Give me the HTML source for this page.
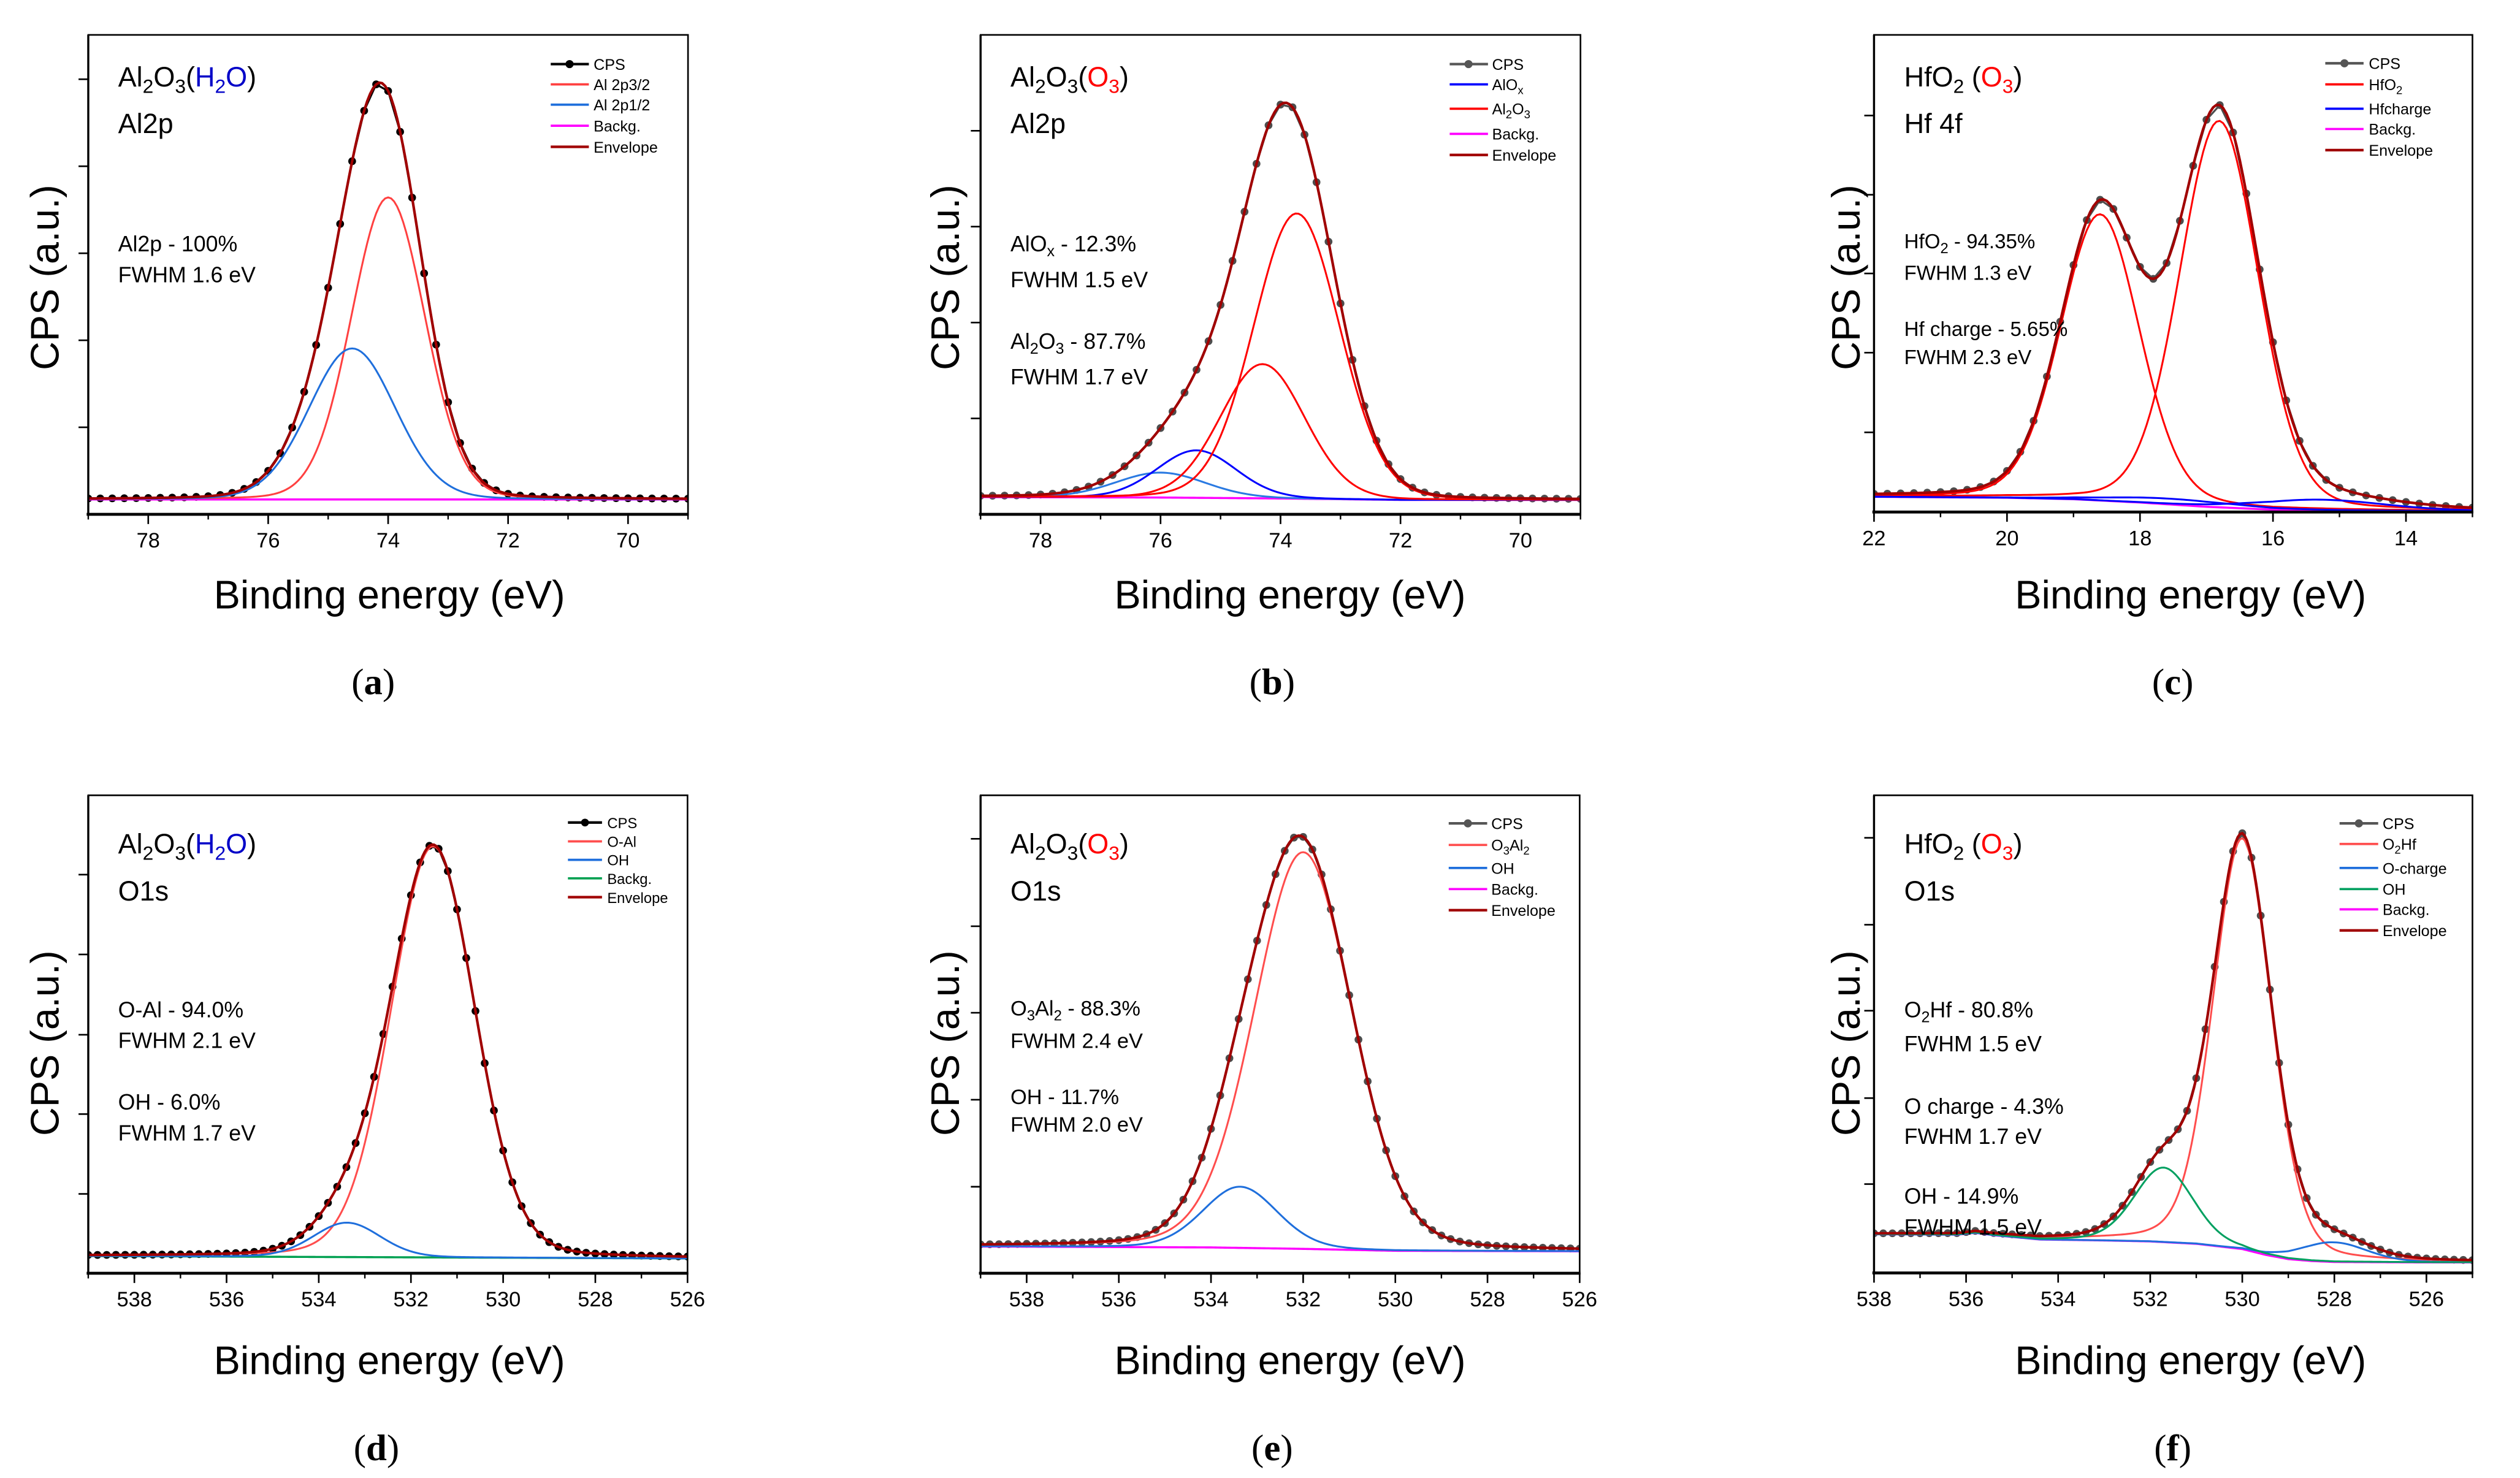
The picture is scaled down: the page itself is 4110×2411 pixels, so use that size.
<!DOCTYPE html>
<html><head><meta charset="utf-8"><title>XPS spectra</title>
<style>
html,body{margin:0;padding:0;background:#fff;}
svg{display:block;}
text{font-family:"Liberation Sans",Arial,sans-serif;}
</style></head>
<body>
<svg id="fig" xmlns="http://www.w3.org/2000/svg" width="4110" height="2411" viewBox="0 0 1553 911">
<rect x="0" y="0" width="1553" height="911" fill="#fff"/>
<g id="plots"></g>

<!-- Panel a -->
<g font-size="17">
<text x="72.8" y="53.3">Al<tspan dy="4" font-size="12">2</tspan><tspan dy="-4">O</tspan><tspan dy="4" font-size="12">3</tspan><tspan dy="-4">(</tspan><tspan fill="#0000c8">H</tspan><tspan fill="#0000c8" dy="4" font-size="12">2</tspan><tspan fill="#0000c8" dy="-4">O</tspan>)</text>
<text x="72.8" y="82">Al2p</text>
<text x="72.8" y="155" font-size="13.5">Al2p - 100%</text>
<text x="72.8" y="174" font-size="13.5">FWHM 1.6 eV</text>
</g>
<!-- Panel b -->
<g font-size="17">
<text x="622.7" y="53.3">Al<tspan dy="4" font-size="12">2</tspan><tspan dy="-4">O</tspan><tspan dy="4" font-size="12">3</tspan><tspan dy="-4">(</tspan><tspan fill="#ff0000">O</tspan><tspan fill="#ff0000" dy="4" font-size="12">3</tspan><tspan dy="-4">)</tspan></text>
<text x="622.7" y="82">Al2p</text>
<text x="622.7" y="155" font-size="13.5">AlO<tspan dy="3" font-size="9.5">x</tspan><tspan dy="-3"> - 12.3%</tspan></text>
<text x="622.7" y="177" font-size="13.5">FWHM 1.5 eV</text>
<text x="622.7" y="215" font-size="13.5">Al<tspan dy="3" font-size="9.5">2</tspan><tspan dy="-3">O</tspan><tspan dy="3" font-size="9.5">3</tspan><tspan dy="-3"> - 87.7%</tspan></text>
<text x="622.7" y="237" font-size="13.5">FWHM 1.7 eV</text>
</g>
<!-- Panel c -->
<g font-size="17">
<text x="1173.5" y="53.3">HfO<tspan dy="4" font-size="12">2</tspan><tspan dy="-4"> (</tspan><tspan fill="#ff0000">O</tspan><tspan fill="#ff0000" dy="4" font-size="12">3</tspan><tspan dy="-4">)</tspan></text>
<text x="1173.5" y="82">Hf 4f</text>
<text x="1173.5" y="153" font-size="12.5">HfO<tspan dy="3" font-size="9">2</tspan><tspan dy="-3"> - 94.35%</tspan></text>
<text x="1173.5" y="172.5" font-size="12.5">FWHM 1.3 eV</text>
<text x="1173.5" y="207" font-size="12.5">Hf charge - 5.65%</text>
<text x="1173.5" y="224.5" font-size="12.5">FWHM 2.3 eV</text>
</g>
<!-- Panel d -->
<g font-size="17">
<text x="72.8" y="526">Al<tspan dy="4" font-size="12">2</tspan><tspan dy="-4">O</tspan><tspan dy="4" font-size="12">3</tspan><tspan dy="-4">(</tspan><tspan fill="#0000c8">H</tspan><tspan fill="#0000c8" dy="4" font-size="12">2</tspan><tspan fill="#0000c8" dy="-4">O</tspan>)</text>
<text x="72.8" y="555">O1s</text>
<text x="72.8" y="627" font-size="13.5">O-Al - 94.0%</text>
<text x="72.8" y="646" font-size="13.5">FWHM 2.1 eV</text>
<text x="72.8" y="684" font-size="13.5">OH - 6.0%</text>
<text x="72.8" y="703" font-size="13.5">FWHM 1.7 eV</text>
</g>
<!-- Panel e -->
<g font-size="17">
<text x="622.7" y="526">Al<tspan dy="4" font-size="12">2</tspan><tspan dy="-4">O</tspan><tspan dy="4" font-size="12">3</tspan><tspan dy="-4">(</tspan><tspan fill="#ff0000">O</tspan><tspan fill="#ff0000" dy="4" font-size="12">3</tspan><tspan dy="-4">)</tspan></text>
<text x="622.7" y="555">O1s</text>
<text x="622.7" y="626" font-size="13">O<tspan dy="3" font-size="9">3</tspan><tspan dy="-3">Al</tspan><tspan dy="3" font-size="9">2</tspan><tspan dy="-3"> - 88.3%</tspan></text>
<text x="622.7" y="646" font-size="13">FWHM 2.4 eV</text>
<text x="622.7" y="680.5" font-size="13">OH - 11.7%</text>
<text x="622.7" y="697.5" font-size="13">FWHM 2.0 eV</text>
</g>
<!-- Panel f -->
<g font-size="17">
<text x="1173.5" y="526">HfO<tspan dy="4" font-size="12">2</tspan><tspan dy="-4"> (</tspan><tspan fill="#ff0000">O</tspan><tspan fill="#ff0000" dy="4" font-size="12">3</tspan><tspan dy="-4">)</tspan></text>
<text x="1173.5" y="555">O1s</text>
<text x="1173.5" y="627" font-size="13.5">O<tspan dy="3" font-size="9.5">2</tspan><tspan dy="-3">Hf - 80.8%</tspan></text>
<text x="1173.5" y="648" font-size="13.5">FWHM 1.5 eV</text>
<text x="1173.5" y="686.5" font-size="13.5">O charge - 4.3%</text>
<text x="1173.5" y="705" font-size="13.5">FWHM 1.7 eV</text>
<text x="1173.5" y="742" font-size="13.5">OH - 14.9%</text>
<text x="1173.5" y="761" font-size="13.5">FWHM 1.5 eV</text>
</g>

<!-- Legends -->
<g font-size="9.5">
<line x1="339.4" y1="39.5" x2="362.9" y2="39.5" stroke="#000" stroke-width="1.6"/><circle cx="351" cy="39.5" r="2.5" fill="#000"/><text x="365.8" y="43">CPS</text>
<line x1="339.4" y1="52" x2="362.9" y2="52" stroke="#ff4040" stroke-width="1.4"/><text x="365.8" y="55.5">Al 2p3/2</text>
<line x1="339.4" y1="64.5" x2="362.9" y2="64.5" stroke="#1f6fdc" stroke-width="1.4"/><text x="365.8" y="68">Al 2p1/2</text>
<line x1="339.4" y1="77.5" x2="362.9" y2="77.5" stroke="#ff00ff" stroke-width="1.4"/><text x="365.8" y="81">Backg.</text>
<line x1="339.4" y1="90.5" x2="362.9" y2="90.5" stroke="#a00000" stroke-width="1.6"/><text x="365.8" y="94">Envelope</text>
</g>
<g font-size="9.5">
<line x1="893.4" y1="39.5" x2="917" y2="39.5" stroke="#555" stroke-width="1.6"/><circle cx="905" cy="39.5" r="2.5" fill="#555"/><text x="919.5" y="43">CPS</text>
<line x1="893.4" y1="52" x2="917" y2="52" stroke="#0000ff" stroke-width="1.4"/><text x="919.5" y="55.5">AlO<tspan dy="2.5" font-size="7">x</tspan></text>
<line x1="893.4" y1="67" x2="917" y2="67" stroke="#ff0000" stroke-width="1.4"/><text x="919.5" y="70.5">Al<tspan dy="2.5" font-size="7">2</tspan><tspan dy="-2.5">O</tspan><tspan dy="2.5" font-size="7">3</tspan></text>
<line x1="893.4" y1="82.5" x2="917" y2="82.5" stroke="#ff00ff" stroke-width="1.4"/><text x="919.5" y="86">Backg.</text>
<line x1="893.4" y1="95.5" x2="917" y2="95.5" stroke="#a00000" stroke-width="1.6"/><text x="919.5" y="99">Envelope</text>
</g>
<g font-size="9.5">
<line x1="1433" y1="39" x2="1456.6" y2="39" stroke="#555" stroke-width="1.6"/><circle cx="1444.8" cy="39" r="2.5" fill="#555"/><text x="1459.8" y="42.5">CPS</text>
<line x1="1433" y1="52" x2="1456.6" y2="52" stroke="#ff0000" stroke-width="1.4"/><text x="1459.8" y="55.5">HfO<tspan dy="2.5" font-size="7">2</tspan></text>
<line x1="1433" y1="67" x2="1456.6" y2="67" stroke="#0000ff" stroke-width="1.4"/><text x="1459.8" y="70.5">Hfcharge</text>
<line x1="1433" y1="79.5" x2="1456.6" y2="79.5" stroke="#ff00ff" stroke-width="1.4"/><text x="1459.8" y="83">Backg.</text>
<line x1="1433" y1="92.5" x2="1456.6" y2="92.5" stroke="#a00000" stroke-width="1.6"/><text x="1459.8" y="96">Envelope</text>
</g>
<g font-size="9">
<line x1="350" y1="507" x2="371" y2="507" stroke="#000" stroke-width="1.6"/><circle cx="360.5" cy="507" r="2.4" fill="#000"/><text x="374.2" y="510.4">CPS</text>
<line x1="350" y1="518.6" x2="371" y2="518.6" stroke="#ff4d4d" stroke-width="1.4"/><text x="374.2" y="522">O-Al</text>
<line x1="350" y1="530" x2="371" y2="530" stroke="#1f6fdc" stroke-width="1.4"/><text x="374.2" y="533.3">OH</text>
<line x1="350" y1="541.4" x2="371" y2="541.4" stroke="#00a050" stroke-width="1.4"/><text x="374.2" y="544.8">Backg.</text>
<line x1="350" y1="553" x2="371" y2="553" stroke="#a00000" stroke-width="1.6"/><text x="374.2" y="556.5">Envelope</text>
</g>
<g font-size="9.5">
<line x1="892.8" y1="507.5" x2="916.5" y2="507.5" stroke="#555" stroke-width="1.6"/><circle cx="904.6" cy="507.5" r="2.5" fill="#555"/><text x="919" y="511">CPS</text>
<line x1="892.8" y1="520.8" x2="916.5" y2="520.8" stroke="#ff4d4d" stroke-width="1.4"/><text x="919" y="524.3">O<tspan dy="2.5" font-size="7">3</tspan><tspan dy="-2.5">Al</tspan><tspan dy="2.5" font-size="7">2</tspan></text>
<line x1="892.8" y1="535" x2="916.5" y2="535" stroke="#1f6fdc" stroke-width="1.4"/><text x="919" y="538.6">OH</text>
<line x1="892.8" y1="548" x2="916.5" y2="548" stroke="#ff00ff" stroke-width="1.4"/><text x="919" y="551.4">Backg.</text>
<line x1="892.8" y1="561" x2="916.5" y2="561" stroke="#a00000" stroke-width="1.6"/><text x="919" y="564.6">Envelope</text>
</g>
<g font-size="9.5">
<line x1="1441.8" y1="507.5" x2="1465.6" y2="507.5" stroke="#555" stroke-width="1.6"/><circle cx="1453.7" cy="507.5" r="2.5" fill="#555"/><text x="1468.3" y="511">CPS</text>
<line x1="1441.8" y1="520.2" x2="1465.6" y2="520.2" stroke="#ff4d4d" stroke-width="1.4"/><text x="1468.3" y="523.7">O<tspan dy="2.5" font-size="7">2</tspan><tspan dy="-2.5">Hf</tspan></text>
<line x1="1441.8" y1="535" x2="1465.6" y2="535" stroke="#1f6fdc" stroke-width="1.4"/><text x="1468.3" y="538.6">O-charge</text>
<line x1="1441.8" y1="548" x2="1465.6" y2="548" stroke="#00a060" stroke-width="1.4"/><text x="1468.3" y="551.4">OH</text>
<line x1="1441.8" y1="560.5" x2="1465.6" y2="560.5" stroke="#ff00ff" stroke-width="1.4"/><text x="1468.3" y="564">Backg.</text>
<line x1="1441.8" y1="573.5" x2="1465.6" y2="573.5" stroke="#a00000" stroke-width="1.6"/><text x="1468.3" y="577">Envelope</text>
</g>

<!-- Axis titles -->
<g font-size="24.5">
<text x="240" y="375" text-anchor="middle">Binding energy (eV)</text>
<text x="795" y="375" text-anchor="middle">Binding energy (eV)</text>
<text x="1350" y="375" text-anchor="middle">Binding energy (eV)</text>
<text x="240" y="847" text-anchor="middle">Binding energy (eV)</text>
<text x="795" y="847" text-anchor="middle">Binding energy (eV)</text>
<text x="1350" y="847" text-anchor="middle">Binding energy (eV)</text>
<text transform="translate(36,171) rotate(-90)" text-anchor="middle">CPS (a.u.)</text>
<text transform="translate(591,171) rotate(-90)" text-anchor="middle">CPS (a.u.)</text>
<text transform="translate(1146,171) rotate(-90)" text-anchor="middle">CPS (a.u.)</text>
<text transform="translate(36,643) rotate(-90)" text-anchor="middle">CPS (a.u.)</text>
<text transform="translate(591,643) rotate(-90)" text-anchor="middle">CPS (a.u.)</text>
<text transform="translate(1146,643) rotate(-90)" text-anchor="middle">CPS (a.u.)</text>
</g>
<g font-size="23">
<text x="230" y="428" text-anchor="middle" style="font-family:'Liberation Serif',serif">(<tspan font-weight="bold">a</tspan>)</text>
<text x="784" y="428" text-anchor="middle" style="font-family:'Liberation Serif',serif">(<tspan font-weight="bold">b</tspan>)</text>
<text x="1339" y="428" text-anchor="middle" style="font-family:'Liberation Serif',serif">(<tspan font-weight="bold">c</tspan>)</text>
<text x="232" y="900" text-anchor="middle" style="font-family:'Liberation Serif',serif">(<tspan font-weight="bold">d</tspan>)</text>
<text x="784" y="900" text-anchor="middle" style="font-family:'Liberation Serif',serif">(<tspan font-weight="bold">e</tspan>)</text>
<text x="1339" y="900" text-anchor="middle" style="font-family:'Liberation Serif',serif">(<tspan font-weight="bold">f</tspan>)</text>
</g>
</svg>

<script>
// ===== Data (intensity in a.u., 0 = axis floor, 100 = frame top) =====
// Panel a: Al2p (H2O)
const A_centers = [74.0, 74.6];
const A_heights = [63, 31.5];
const A_fwhm = [1.45, 1.7];
const A_bgE = [79, 69];
const A_bgV = [3.1, 3.1];
const A_xticks = [78, 76, 74, 72, 70];
const A_yticks = [18.15, 36.3, 54.45, 72.6, 90.75];
// Panel b: Al2p (O3)
const B_centers = [76.0, 75.4, 74.3, 73.73];
const B_heights = [5.2, 9.9, 28, 59.5];
const B_fwhm = [1.76, 1.55, 1.66, 1.69];
const B_bgE = [79, 76, 74, 72, 69];
const B_bgV = [3.6, 3.5, 3.3, 3.0, 3.0];
const B_xticks = [78, 76, 74, 72, 70];
const B_yticks = [20, 40, 60, 80];
// Panel c: Hf 4f
const C_centers = [18.6, 16.81, 17.5, 15.3];
const C_heights = [60, 81, 1.2, 2.2];
const C_fwhm = [1.4, 1.4, 2.3, 2.3];
const C_bgE = [22, 21, 20, 19, 18, 17, 16, 15, 14, 13];
const C_bgV = [3.2, 3.1, 3.0, 2.7, 2.0, 1.1, 0.5, 0.35, 0.25, 0.2];
const C_xticks = [22, 20, 18, 16, 14];
const C_yticks = [16.7, 33.4, 50.0, 66.5, 83.1];
// Panel d: O1s (H2O)
const D_centers = [531.52, 533.39];
const D_heights = [86, 7.2];
const D_fwhm = [2.15, 1.71];
const D_bgE = [539, 526];
const D_bgV = [3.6, 3.1];
const D_xticks = [538, 536, 534, 532, 530, 528, 526];
const D_yticks = [16.6, 33.3, 49.9, 66.7, 83.4];
// Panel e: O1s (O3) Al2O3
const E_centers = [532.0, 533.37];
const E_heights = [83, 12.8];
const E_fwhm = [2.5, 1.9];
const E_bgE = [539, 534, 532, 530, 526];
const E_bgV = [5.6, 5.4, 5.1, 4.7, 4.6];
const E_xticks = [538, 536, 534, 532, 530, 528, 526];
const E_yticks = [18.1, 36.3, 54.5, 72.6, 90.9];
// Panel f: O1s HfO2
const F_centers = [530.0, 528.02, 531.71];
const F_heights = [86, 4.1, 15.6];
const F_fwhm = [1.5, 1.7, 1.5];
const F_bgE = [538, 536.2, 535.8, 535.4, 534.4, 533, 532, 531, 530, 529.5, 529, 528.5, 528, 526, 525];
const F_bgV = [8.1, 8.0, 8.4, 7.9, 7.0, 6.8, 6.6, 6.1, 5.0, 3.8, 2.9, 2.5, 2.3, 2.2, 2.2];
const F_xticks = [538, 536, 534, 532, 530, 528, 526];
const F_yticks = [18.6, 36.6, 54.9, 72.9, 91.1];

// ===== Layout / style (not data) =====
const panels = [
 {id:'a', x0:54.4, x1:424, y0:21.5, y1:317, eL:79, eR:69, centers:A_centers, heights:A_heights, fwhm:A_fwhm, bgE:A_bgE, bgV:A_bgV, xticks:A_xticks, yticks:A_yticks,
  colors:['#ff4040','#1f6fdc'], names:['al2p32','al2p12'], eta:0.08, bgColor:'#ff00ff', cps:'#000'},
 {id:'b', x0:604.3, x1:974, y0:21.5, y1:317, eL:79, eR:69, centers:B_centers, heights:B_heights, fwhm:B_fwhm, bgE:B_bgE, bgV:B_bgV, xticks:B_xticks, yticks:B_yticks,
  colors:['#2a7ae2','#0000ff','#ff0000','#ff0000'], names:['alox-1','alox-2','al2o3-1','al2o3-2'], eta:0.08, bgColor:'#ff00ff', cps:'#4d4d4d'},
 {id:'c', x0:1154.9, x1:1523.7, y0:21.5, y1:315.6, eL:22, eR:13, centers:C_centers, heights:C_heights, fwhm:C_fwhm, bgE:C_bgE, bgV:C_bgV, xticks:C_xticks, yticks:C_yticks,
  colors:['#ff0000','#ff0000','#0000ff','#0000ff'], names:['hfo2-1','hfo2-2','hfcharge-1','hfcharge-2'], eta:0.15, bgColor:'#ff00ff', cps:'#4d4d4d'},
 {id:'d', x0:54.4, x1:423.7, y0:490.2, y1:784.8, eL:539, eR:526, centers:D_centers, heights:D_heights, fwhm:D_fwhm, bgE:D_bgE, bgV:D_bgV, xticks:D_xticks, yticks:D_yticks,
  colors:['#ff4d4d','#1f6fdc'], names:['o-al','oh'], eta:0.12, bgColor:'#00a050', cps:'#000'},
 {id:'e', x0:604.3, x1:973.5, y0:490.2, y1:784.8, eL:539, eR:526, centers:E_centers, heights:E_heights, fwhm:E_fwhm, bgE:E_bgE, bgV:E_bgV, xticks:E_xticks, yticks:E_yticks,
  colors:['#ff4d4d','#1f6fdc'], names:['o3al2','oh'], eta:0.15, bgColor:'#ff00ff', cps:'#4d4d4d'},
 {id:'f', x0:1154.9, x1:1523.7, y0:490.2, y1:784.6, eL:538, eR:525, centers:F_centers, heights:F_heights, fwhm:F_fwhm, bgE:F_bgE, bgV:F_bgV, xticks:F_xticks, yticks:F_yticks,
  colors:['#ff4d4d','#1f6fdc','#00a060'], names:['o2hf','o-charge','oh'], eta:0.2, bgColor:'#ff00ff', cps:'#4d4d4d'}
];

const NS = 'http://www.w3.org/2000/svg';
const root = document.getElementById('plots');
function mk(tag, attrs, parent){
  const el = document.createElementNS(NS, tag);
  for (const k in attrs) el.setAttribute(k, attrs[k]);
  parent.appendChild(el);
  return el;
}
function interp(E, V, e){
  for (let i=0;i<E.length-1;i++){
    const a=E[i], b=E[i+1];
    if ((e<=a && e>=b) || (e>=a && e<=b)){
      const t = (e-a)/(b-a);
      return V[i] + t*(V[i+1]-V[i]);
    }
  }
  return (Math.abs(e-E[0])<Math.abs(e-E[E.length-1])) ? V[0] : V[V.length-1];
}
function peak(e, c, h, w, eta){
  const d = (e-c)/w;
  const g = Math.exp(-4*Math.LN2*d*d);
  const l = 1/(1+4*d*d);
  return h*((1-eta)*g + eta*l);
}

panels.forEach(p => {
  const g = mk('g', {}, root);
  
  
  const xs = e => p.x0 + (p.eL - e) / (p.eL - p.eR) * (p.x1 - p.x0);
  const ys = v => p.y1 - v / 100 * (p.y1 - p.y0);
  const step = 0.05;
  const n = Math.round((p.eL - p.eR) / step);
  const energies = [];
  for (let i=0;i<=n;i++) energies.push(p.eL - i*step);

  const clipId = 'clip-' + p.id;
  const defs = mk('defs', {}, g);
  const cp = mk('clipPath', {id: clipId}, defs);
  mk('rect', {x:p.x0, y:p.y0, width:p.x1-p.x0, height:p.y1-p.y0}, cp);
  const plot = mk('g', {'clip-path':'url(#'+clipId+')'}, g);

  const bgAt = e => interp(p.bgE, p.bgV, e);
  const envAt = e => {
    let s = bgAt(e);
    for (let k=0;k<p.centers.length;k++) s += peak(e, p.centers[k], p.heights[k], p.fwhm[k], p.eta);
    return s;
  };

  const dotE = [];
  const nd = Math.round((p.eL - p.eR) / 0.2);
  for (let i=0;i<=nd;i++) dotE.push(p.eL - i*0.2);
  const cpsLine = mk('polyline', {points: dotE.map(e => xs(e).toFixed(2)+','+ys(envAt(e)).toFixed(2)).join(' '), fill:'none', stroke:p.cps, 'stroke-width':1.2}, plot);
  
  
  dotE.forEach(e => {
    const c = mk('circle', {cx:xs(e).toFixed(2), cy:ys(envAt(e)).toFixed(2), r:2.4, fill:p.cps}, plot);
    
    
  });

  const bg = mk('polyline', {points: energies.map(e => xs(e).toFixed(2)+','+ys(bgAt(e)).toFixed(2)).join(' '), fill:'none', stroke:p.bgColor, 'stroke-width':1.3}, plot);
  
  

  for (let k=0;k<p.centers.length;k++){
    const pts = energies.map(e => xs(e).toFixed(2)+','+ys(bgAt(e)+peak(e, p.centers[k], p.heights[k], p.fwhm[k], p.eta)).toFixed(2)).join(' ');
    const comp = mk('polyline', {points: pts, fill:'none', stroke:p.colors[k], 'stroke-width':1.15}, plot);
    
    
  }

  const env = mk('polyline', {points: energies.map(e => xs(e).toFixed(2)+','+ys(envAt(e)).toFixed(2)).join(' '), fill:'none', stroke:'#a00000', 'stroke-width':1.6}, plot);
  
  

  const frame = mk('rect', {x:p.x0, y:p.y0, width:p.x1-p.x0, height:p.y1-p.y0, fill:'none', stroke:'#000', 'stroke-width':1}, g);
  
  
  const xaxis = mk('line', {x1:p.x0-1, y1:p.y1, x2:p.x1+0.5, y2:p.y1, stroke:'#000', 'stroke-width':1.8}, g);
  
  
  const yaxis = mk('line', {x1:p.x0, y1:p.y0, x2:p.x0, y2:p.y1, stroke:'#000', 'stroke-width':1.3}, g);
  
  

  for (let e = Math.ceil(p.eR); e <= Math.floor(p.eL); e++){
    const t = mk('line', {x1:xs(e), y1:p.y1, x2:xs(e), y2:p.y1+3.2, stroke:'#000', 'stroke-width':0.9}, g);
    
    
  }
  p.xticks.forEach(v => {
    const t = mk('line', {x1:xs(v), y1:p.y1, x2:xs(v), y2:p.y1+6, stroke:'#000', 'stroke-width':1}, g);
    
    
    const lb = mk('text', {x:xs(v), y:p.y1+20.5, 'text-anchor':'middle', 'font-size':13}, g);
    lb.textContent = String(v);
    
    
  });
  p.yticks.forEach(v => {
    const t = mk('line', {x1:p.x0-6, y1:ys(v), x2:p.x0, y2:ys(v), stroke:'#000', 'stroke-width':1}, g);
    
    
  });
});
</script>
</body></html>
